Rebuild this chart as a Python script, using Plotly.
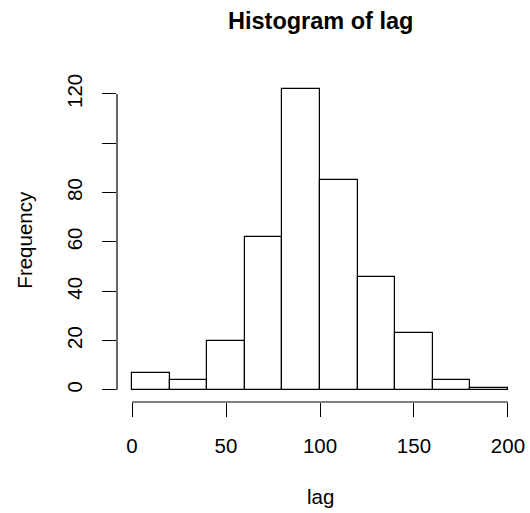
import plotly.graph_objects as go

bin_edges = [0, 20, 40, 60, 80, 100, 120, 140, 160, 180, 200]
counts = [7, 4, 20, 62, 122, 85, 46, 23, 4, 1]
x_tick_vals = [0, 50, 100, 150, 200]
x_tick_text = ["0", "50", "100", "150", "200"]
y_tick_vals = [0, 20, 40, 60, 80, 100, 120]
y_tick_text = ["0", "20", "40", "60", "80", "", "120"]

mids = [(a + b) / 2 for a, b in zip(bin_edges[:-1], bin_edges[1:])]
widths = [b - a for a, b in zip(bin_edges[:-1], bin_edges[1:])]

FONT = "Liberation Sans, Arial, Helvetica, sans-serif"
LBL = 20.5

fig = go.Figure(go.Bar(
    x=mids, y=counts, width=widths,
    marker=dict(color="white", line=dict(color="black", width=1.2)),
    hoverinfo="skip",
    cliponaxis=False,
))

ymax = max(counts)
xmin, xmax = bin_edges[0], bin_edges[-1]
fig.update_layout(
    width=530, height=513,
    margin=dict(l=117, r=7, t=77, b=111, autoexpand=False),
    paper_bgcolor="white", plot_bgcolor="white",
    showlegend=False,
    font=dict(family=FONT, color="black", size=LBL),
    bargap=0,
    xaxis=dict(
        range=[xmin - 0.04 * (xmax - xmin), xmax + 0.04 * (xmax - xmin)],
        tickmode="array", tickvals=x_tick_vals, ticktext=x_tick_text,
        ticks="outside", ticklen=14, tickwidth=1.2, tickcolor="black",
        showgrid=False, zeroline=False, showline=False,
        tickfont=dict(size=LBL), automargin=False, ticklabelstandoff=11,
    ),
    yaxis=dict(
        range=[-0.04 * ymax, 1.04 * ymax],
        tickmode="array", tickvals=y_tick_vals, ticktext=y_tick_text,
        ticks="outside", ticklen=14, tickwidth=1.2, tickcolor="black",
        tickangle=-90,
        showgrid=False, zeroline=False, showline=False,
        tickfont=dict(size=LBL), automargin=False, ticklabelstandoff=12,
    ),
    shapes=[
        dict(type="line", xref="x", yref="paper", x0=xmin, x1=xmax, y0=0, y1=0,
             line=dict(color="black", width=1.2)),
        dict(type="line", xref="paper", yref="y", x0=0, x1=0, y0=0, y1=y_tick_vals[-1],
             line=dict(color="black", width=1.2)),
    ],
    annotations=[
        dict(text="<b>Histogram of lag</b>", xref="paper", yref="paper",
             x=0.5, y=(402 - 21) / 325, xanchor="center", yanchor="middle",
             showarrow=False, font=dict(size=23.5)),
        dict(text="lag", xref="paper", yref="paper",
             x=0.5, y=(402 - 496) / 325, xanchor="center", yanchor="middle",
             showarrow=False, font=dict(size=LBL)),
        dict(text="Frequency", xref="paper", yref="paper",
             x=(24 - 117) / 406.6, y=0.5, xanchor="center", yanchor="middle",
             textangle=-90, showarrow=False, font=dict(size=LBL)),
    ],
)

fig.write_html(
    "out.html",
    config={"displayModeBar": False},
    post_script="document.body.style.margin='0';document.body.style.overflow='hidden';",
)
